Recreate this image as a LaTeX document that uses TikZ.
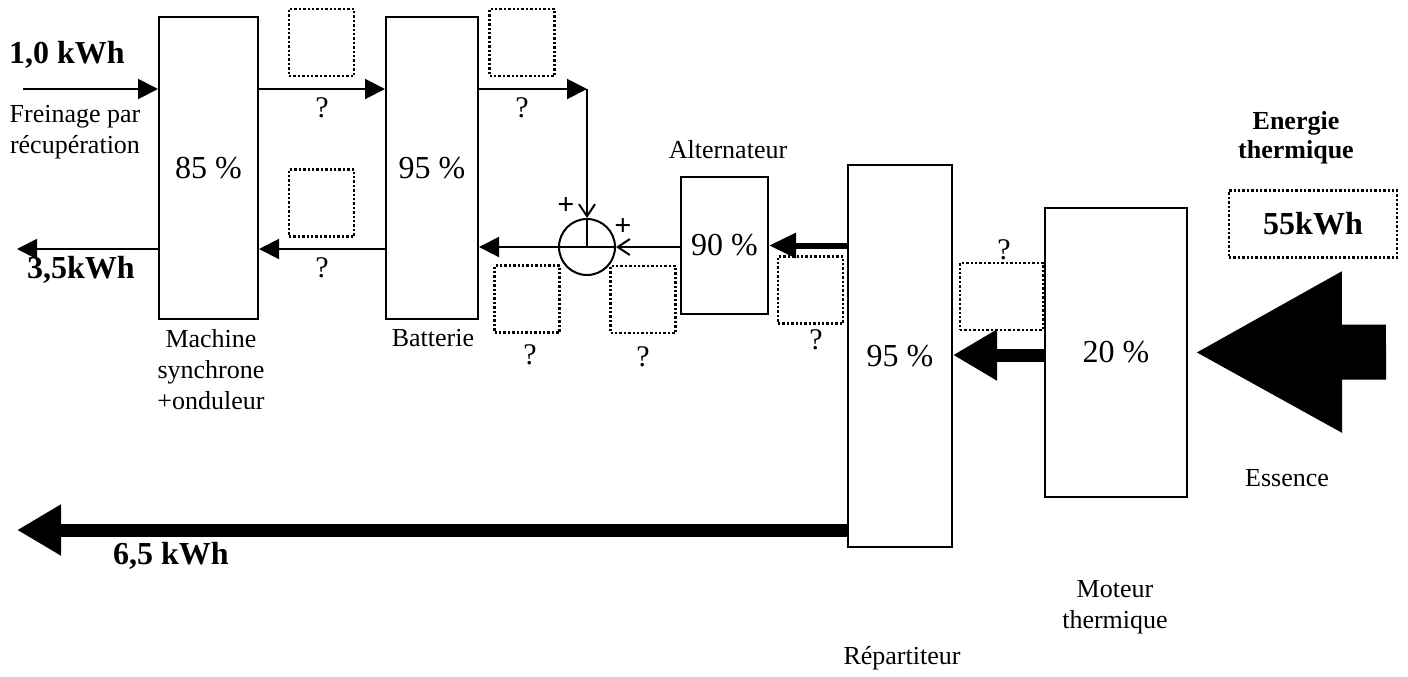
\documentclass[tikz,border=0pt]{standalone}
\usepackage{fontspec}
\setmainfont{Liberation Serif}
\usetikzlibrary{arrows.meta}

\begin{document}
\begin{tikzpicture}[x=0.5pt,y=-0.5pt,
    blk/.style={draw, line width=1pt, inner sep=0pt, font=\fontsize{16}{19}\selectfont},
    qbox/.style={draw, densely dotted, line width=1.2pt, minimum width=32.5pt, minimum height=33.5pt},
    lbl/.style={align=center, font=\fontsize{13}{15.5}\selectfont},
    ask/.style={font=\fontsize{15}{17}\selectfont},
    val/.style={font=\fontsize{16}{19}\selectfont\bfseries},
    plus/.style={inner sep=0pt, font=\fontsize{15}{17}\selectfont\bfseries},
    arr/.style={line width=1pt, -{Triangle[length=10pt,width=10pt]}},
    sumarrow/.style={line width=1pt, -{Straight Barb[length=6pt,width=8pt]}},
    midarrow/.style={line width=3pt, -{Triangle[length=13.5pt,width=12pt]}},
    fat/.style={line width=6.5pt, -{Triangle[length=22pt,width=24pt]}},
    huge/.style={line width=27.5pt, -{Triangle[length=74pt,width=75pt]}, shorten >=3pt}]

    \useasboundingbox (0,0) rectangle (1408,676);

    \node[blk, minimum width=49.5pt, minimum height=151pt] (mach) at (208.5,168) {85 \%};
    \node[blk, minimum width=46pt, minimum height=151pt] (batt) at (432,168) {95 \%};
    \node[blk, minimum width=43.5pt, minimum height=68.5pt] (alt) at (724.5,245.5) {90 \%};
    \node[blk, minimum width=52pt, minimum height=191pt] (rep) at (900,356) {95 \%};
    \node[blk, minimum width=71pt, minimum height=144.5pt] (mot) at (1116,352.5) {20 \%};
    \node[draw, circle, line width=1pt, minimum size=28pt, inner sep=0pt] (sum) at (587,247) {};

    \coordinate (fwd) at (0,89);
    \coordinate (back) at (0,249);
    \coordinate (brake) at (23,89);
    \coordinate (out1) at (17,249);
    \coordinate (corner) at (587,89);
    \coordinate (out2) at (17,530);
    \coordinate (fuel) at (1386,352);

    \node[qbox] (qa) at (321.5,42.5) {};
    \node[qbox] (qb) at (321.5,203) {};
    \node[qbox] (qc) at (522,42.5) {};
    \node[qbox] (qd) at (527,299) {};
    \node[qbox] (qe) at (643,299.5) {};
    \node[qbox] (qf) at (810.5,290) {};
    \node[qbox, minimum width=41.5pt] (qg) at (1001.5,296.5) {};
    \node[qbox, minimum width=84pt, val] (qh) at (1313,224) {55kWh};

    \node[ask] (ma) at (322,108) {?};
    \node[ask] (mb) at (322,268) {?};
    \node[ask] (mc) at (522,108) {?};
    \node[ask] (md) at (530,355) {?};
    \node[ask] (me) at (643,357) {?};
    \node[ask] (mf) at (816,340) {?};
    \node[ask] (mg) at (1004,250) {?};

    \node[val] (e1) at (67,55) {1,0 kWh};
    \node[lbl] (brk) at (75,132) {Freinage par\\récupération};
    \node[val] (e2) at (81,270) {3,5kWh};
    \node[val] (e3) at (171,556) {6,5 kWh};
    \node[lbl] (machlbl) at (211,370) {Machine\\synchrone\\+onduleur};
    \node[lbl] (battlbl) at (433,338) {Batterie};
    \node[lbl] (altlbl) at (728,150) {Alternateur};
    \node[plus] (p1) at (566,206) {+};
    \node[plus] (p2) at (623,227) {+};
    \node[align=center, font=\fontsize{13}{14.5}\selectfont\bfseries] (eth) at (1296,138) {Energie\\thermique};
    \node[lbl] (ess) at (1287,478) {Essence};
    \node[lbl] (motlbl) at (1115,607) {Moteur\\thermique};
    \node[lbl] (replbl) at (902,658) {Répartiteur};

    \draw[arr] (brake) -- (mach.west |- fwd);
    \draw[arr] (mach.east |- fwd) -- (batt.west |- fwd);
    \draw[arr] (batt.east |- fwd) -- (corner);
    \draw[sumarrow] (corner) -- (sum.north);
    \draw[line width=1pt] (sum.north) -- (sum.center) (sum.west) -- (sum.east);
    \draw[sumarrow] (alt.west |- sum) -- (sum.east);
    \draw[arr] (sum.west) -- (sum.west -| batt.east);
    \draw[arr] (batt.west |- back) -- (mach.east |- back);
    \draw[arr] (mach.west |- back) -- (out1);
    \draw[midarrow] (rep.west |- alt) -- (alt.east);
    \draw[fat] (mot.west |- 0,355) -- (rep.east |- 0,355);
    \draw[fat] (rep.west |- out2) -- (out2);
    \draw[huge] (fuel) -- (mot.east);
\end{tikzpicture}
\end{document}
